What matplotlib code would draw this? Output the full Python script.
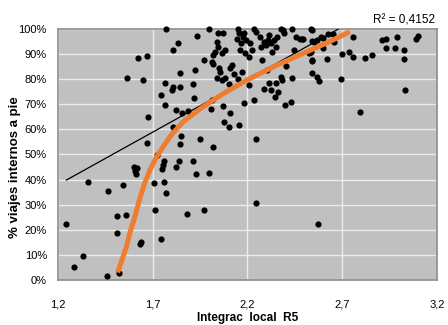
"""
% viajes internos a pie vs Integrac local R5
"""

import matplotlib
matplotlib.use("Agg")
import matplotlib.pyplot as plt
from matplotlib.ticker import MultipleLocator, FuncFormatter

FONT = ["Liberation Sans Narrow", "Liberation Sans", "DejaVu Sans"]
plt.rcParams["font.family"] = FONT

# scatter: (integracion local R5, % viajes internos a pie)
pts = [
    (1.244, 22.3), (1.283, 5.3), (1.332, 9.7), (1.358, 39), (1.46, 1.5), (1.522, 2.7),
    (1.464, 35.3), (1.51, 18.7), (1.513, 25.6), (1.56, 25.8), (1.543, 38), (1.60, 45),
    (1.605, 43.5), (1.61, 42.2), (1.615, 44.5), (1.635, 14.3), (1.637, 15.3),
    (1.707, 38.5), (1.713, 27.9), (1.742, 16.2), (1.76, 39.2), (1.768, 34.8),
    (1.724, 49.9), (1.749, 44.3), (1.752, 45.8), (1.76, 47.4), (1.824, 45.2),
    (1.836, 47.6), (1.882, 26.3), (1.97, 27.9), (1.995, 42.8), (1.927, 42.2),
    (1.914, 47.3), (2.243, 30.5), (2.574, 22.3),
    (1.677, 64.8), (1.766, 69.8), (1.821, 67.6), (1.856, 66.7), (1.886, 67.3),
    (1.805, 60.8), (1.849, 57.5), (1.844, 54.3), (1.948, 56.2), (2.02, 53.1),
    (1.668, 54.5), (2.014, 71.7), (2.009, 68), (2.069, 69.3), (2.076, 62.9),
    (2.104, 61.1), (2.18, 70.7), (2.236, 71.7), (2.108, 66.4), (2.157, 61.8),
    (2.40, 69.8), (2.431, 70.8), (2.246, 56), (2.794, 66.9),
    (1.562, 80.5), (1.647, 79.7), (1.621, 88.3), (1.668, 89.2), (1.768, 100),
    (1.835, 94.6), (1.808, 91.6), (1.935, 97.2), (1.995, 100), (1.845, 82.6),
    (1.923, 83.7), (1.766, 78.6), (1.808, 76.8), (1.844, 76.8), (1.911, 77.9),
    (1.742, 73.8), (1.8, 75.7), (1.918, 72.4), (1.972, 87.6), (2.011, 87),
    (2.02, 86), (2.046, 98.3), (2.072, 98.3), (2.037, 95), (2.046, 93), (2.02, 89.6),
    (2.028, 91), (2.064, 90.3), (2.081, 91.6), (2.05, 84.3), (2.055, 83),
    (2.037, 80.4), (2.064, 79.7), (2.081, 80.4),
    (2.15, 100), (2.155, 98.3), (2.146, 95.9), (2.164, 94.6), (2.16, 91.6),
    (2.18, 98.3), (2.178, 97), (2.19, 95.6), (2.185, 90.3), (2.213, 94.3),
    (2.234, 100), (2.243, 98.9), (2.225, 91.6), (2.208, 89), (2.266, 97),
    (2.27, 93), (2.287, 95), (2.296, 93.6), (2.308, 95.6), (2.313, 97.6),
    (2.322, 94.3), (2.34, 95.6), (2.331, 91), (2.349, 93), (2.357, 97),
    (2.375, 100), (2.389, 99.6), (2.393, 98.3), (2.436, 100), (2.454, 97),
    (2.477, 95.9), (2.49, 95.9), (2.533, 100), (2.542, 99.6), (2.551, 95),
    (2.586, 97), (2.445, 91.6), (2.537, 91), (2.542, 87.3),
    (2.208, 77.8), (2.287, 76), (2.313, 78.4), (2.322, 75.7), (2.349, 78.4),
    (2.375, 81), (2.384, 79.7), (2.436, 80.6), (2.405, 85.4), (2.278, 87.6),
    (2.305, 83.7), (2.362, 75), (2.345, 73),
    (2.108, 84.3), (2.12, 85.6), (2.13, 82), (2.15, 80), (2.17, 83), (2.1, 78),
    (2.491, 96), (2.542, 95.2), (2.568, 95.6), (2.597, 96.3), (2.626, 97.9),
    (2.649, 97.9), (2.658, 94.9), (2.755, 96.7), (2.525, 90.3), (2.542, 87.6),
    (2.597, 92.6), (2.618, 88), (2.539, 82.6), (2.568, 81), (2.577, 79.4),
    (2.692, 80.1), (2.70, 90), (2.736, 91), (2.758, 88.7), (2.822, 88.3),
    (2.858, 89.8), (2.908, 95.7), (2.929, 96), (2.987, 96.7), (2.931, 92.3),
    (2.978, 92.3), (3.027, 91.5), (3.027, 88.2), (3.03, 75.7), (3.089, 96),
    (3.101, 97.3),
]
x_pts = [p[0] for p in pts]
y_pts = [p[1] for p in pts]

# linear trendline (R² = 0,4152)
trend_x = [1.244, 2.68]
trend_y = [39.8, 100]

# orange curve
curve_x = [1.515, 1.54, 1.56, 1.58, 1.605, 1.63, 1.657, 1.686, 1.72, 1.76, 1.80,
           1.86, 1.95, 2.02, 2.08, 2.2, 2.35, 2.5, 2.62, 2.74]
curve_y = [3, 8.5, 13, 19, 25, 32, 38.5, 44, 49, 53.7, 58,
           63, 68.2, 71.7, 74.6, 79.8, 85.4, 90.5, 94.5, 98.9]

x_ticks = [1.2, 1.7, 2.2, 2.7, 3.2]
r2_label = "R² = 0,4152"


def main() -> None:
    fig = plt.figure(figsize=(4.48, 3.25), dpi=100)
    ax = fig.add_axes([0.1295, 0.1385, 0.8459, 0.7723])
    ax.set_facecolor("#c0c0c0")

    ax.set_xlim(1.2, 3.2)
    ax.set_ylim(0, 100)
    ax.set_xticks(x_ticks)
    ax.xaxis.set_major_formatter(FuncFormatter(lambda v, _: f"{v:.1f}".replace(".", ",")))
    ax.yaxis.set_major_locator(MultipleLocator(10))
    ax.yaxis.set_major_formatter(FuncFormatter(lambda v, _: f"{v:.0f}%"))
    ax.grid(True, color="#ececec", linewidth=1.0)
    ax.set_axisbelow(True)
    ax.tick_params(length=0, labelsize=8)
    ax.tick_params(axis="x", pad=14)
    ax.tick_params(axis="y", pad=8)
    for s in ax.spines.values():
        s.set_color("#8c8c8c")
        s.set_linewidth(1.2)

    ax.scatter(x_pts, y_pts, s=20, color="black", zorder=3, clip_on=False, linewidths=0)
    ax.plot(trend_x, trend_y, color="black", linewidth=0.9, zorder=4)
    ax.plot(curve_x, curve_y, color="#ee7d31", linewidth=3.6, zorder=5,
            solid_capstyle="butt", solid_joinstyle="round")

    ax.text(0.995, 1.01, r2_label, transform=ax.transAxes, ha="right", va="bottom",
            fontsize=8.5)

    ax.set_xlabel("Integrac  local  R5", fontsize=8.5, fontweight="bold", labelpad=2)
    ax.set_ylabel("% viajes internos a pie", fontsize=9.5, fontweight="bold",
                  family=["Liberation Sans", "DejaVu Sans"])
    ax.yaxis.set_label_coords(-0.097, 0.45)

    fig.savefig("out.png", dpi=100)
    plt.close(fig)


if __name__ == "__main__":
    main()
